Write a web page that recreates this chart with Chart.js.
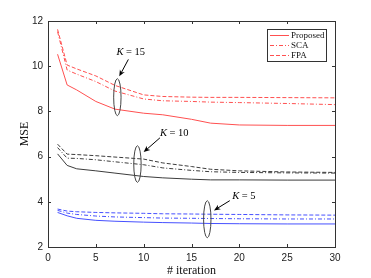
<!DOCTYPE html>
<html>
<head>
<meta charset="utf-8">
<script src="https://cdn.jsdelivr.net/npm/chart.js@4.4.0/dist/chart.umd.min.js"></script>
<style>
  html, body { margin: 0; padding: 0; background: #fff; }
  #wrap { width: 371px; height: 278px; }
</style>
</head>
<body>
<div id="wrap"><canvas id="chartContainer"></canvas></div>
<script>
// iterations sampled from the figure
const iterations = [1, 2, 3, 5, 7, 10, 12, 15, 17, 20, 25, 30];

const k15Proposed = [10.53, 9.17, 8.95, 8.44, 8.1, 7.92, 7.85, 7.65, 7.48, 7.4, 7.38, 7.38];
const k15SCA      = [11.53, 9.83, 9.65, 9.32, 8.9, 8.55, 8.47, 8.44, 8.41, 8.39, 8.35, 8.3];
const k15FPA      = [11.63, 10.05, 9.88, 9.57, 9.15, 8.73, 8.66, 8.63, 8.62, 8.62, 8.61, 8.6];

const k10Proposed = [6.12, 5.61, 5.46, 5.37, 5.27, 5.12, 5.06, 5.0, 4.97, 4.97, 4.96, 4.96];
const k10SCA      = [6.4, 5.93, 5.92, 5.86, 5.77, 5.64, 5.5, 5.39, 5.33, 5.3, 5.28, 5.27];
const k10FPA      = [6.55, 6.11, 6.09, 6.04, 5.98, 5.89, 5.72, 5.56, 5.44, 5.37, 5.32, 5.3];

const k5Proposed  = [3.53, 3.38, 3.27, 3.18, 3.14, 3.1, 3.08, 3.06, 3.04, 3.03, 3.02, 3.02];
const k5SCA       = [3.62, 3.5, 3.44, 3.37, 3.33, 3.3, 3.28, 3.27, 3.26, 3.25, 3.24, 3.24];
const k5FPA       = [3.68, 3.59, 3.56, 3.53, 3.51, 3.49, 3.47, 3.46, 3.45, 3.44, 3.42, 3.41];

const xTicks = [0, 5, 10, 15, 20, 25, 30];
const yTicks = [2, 4, 6, 8, 10, 12];
const legendLabels = ['Proposed', 'SCA', 'FPA'];

// ellipse + arrow + label for each K group (data coords)
const groups = [
  { label: '15', cx: 7.25, cy: 8.63, ry: 0.82, arrowFrom: [8.4, 10.3], arrowTo: [7.45, 9.55], text: [7.15, 10.6] },
  { label: '10', cx: 9.35, cy: 5.67, ry: 0.81, arrowFrom: [11.7, 6.83], arrowTo: [10.0, 6.2], text: [11.7, 7.05] },
  { label: '5',  cx: 16.65, cy: 3.23, ry: 0.82, arrowFrom: [19.0, 4.05], arrowTo: [17.35, 3.62], text: [19.25, 4.25] }
];

const RED = 'rgb(255,80,80)';
const BLACK = 'rgb(60,60,60)';
const BLUE = 'rgb(70,80,255)';
const DASH = [4, 2];
const DASHDOT = [4, 2, 1, 2];

function series(values, color, dash) {
  return {
    data: iterations.map((x, i) => ({ x: x, y: values[i] })),
    borderColor: color,
    borderWidth: 1,
    borderDash: dash,
    pointRadius: 0,
    fill: false,
    tension: 0
  };
}

const datasets = [
  series(k15Proposed, RED, []), series(k15SCA, RED, DASHDOT), series(k15FPA, RED, DASH),
  series(k10Proposed, BLACK, []), series(k10SCA, BLACK, DASHDOT), series(k10FPA, BLACK, DASH),
  series(k5Proposed, BLUE, []), series(k5SCA, BLUE, DASHDOT), series(k5FPA, BLUE, DASH)
];

const frame = {
  id: 'frame',
  afterDatasetsDraw(chart) {
    const { ctx, chartArea: a, scales } = chart;
    const xs = scales.x, ys = scales.y;
    ctx.save();
    ctx.strokeStyle = '#333';
    ctx.lineWidth = 1;
    ctx.setLineDash([]);
    ctx.strokeRect(a.left + 0.5, a.top + 0.5, a.right - a.left, a.bottom - a.top);
    ctx.beginPath();
    xTicks.forEach(v => {
      const px = Math.round(xs.getPixelForValue(v)) + 0.5;
      ctx.moveTo(px, a.bottom); ctx.lineTo(px, a.bottom - 3);
      ctx.moveTo(px, a.top); ctx.lineTo(px, a.top + 3);
    });
    yTicks.forEach(v => {
      const py = Math.round(ys.getPixelForValue(v)) + 0.5;
      ctx.moveTo(a.left, py); ctx.lineTo(a.left + 3, py);
      ctx.moveTo(a.right, py); ctx.lineTo(a.right - 3, py);
    });
    ctx.stroke();

    // annotations
    groups.forEach(g => {
      const cx = xs.getPixelForValue(g.cx), cy = ys.getPixelForValue(g.cy);
      const ry = Math.abs(ys.getPixelForValue(g.cy + g.ry) - cy);
      ctx.strokeStyle = '#444';
      ctx.beginPath();
      ctx.ellipse(cx, cy, 3.7, ry, 0, 0, Math.PI * 2);
      ctx.stroke();

      const x1 = xs.getPixelForValue(g.arrowFrom[0]), y1 = ys.getPixelForValue(g.arrowFrom[1]);
      const x2 = xs.getPixelForValue(g.arrowTo[0]), y2 = ys.getPixelForValue(g.arrowTo[1]);
      const ang = Math.atan2(y2 - y1, x2 - x1);
      ctx.strokeStyle = '#000';
      ctx.fillStyle = '#000';
      ctx.beginPath();
      ctx.moveTo(x1, y1); ctx.lineTo(x2 - 4 * Math.cos(ang), y2 - 4 * Math.sin(ang));
      ctx.stroke();
      ctx.beginPath();
      ctx.moveTo(x2, y2);
      ctx.lineTo(x2 - 7 * Math.cos(ang - 0.4), y2 - 7 * Math.sin(ang - 0.4));
      ctx.lineTo(x2 - 4.5 * Math.cos(ang), y2 - 4.5 * Math.sin(ang));
      ctx.lineTo(x2 - 7 * Math.cos(ang + 0.4), y2 - 7 * Math.sin(ang + 0.4));
      ctx.closePath();
      ctx.fill();

      const tx = xs.getPixelForValue(g.text[0]), ty = ys.getPixelForValue(g.text[1]);
      ctx.textBaseline = 'middle';
      ctx.textAlign = 'left';
      ctx.font = 'italic 10.5px "Liberation Serif"';
      ctx.fillText('K', tx, ty);
      const kw = ctx.measureText('K').width;
      ctx.font = '10.5px "Liberation Serif"';
      ctx.fillText(' = ' + g.label, tx + kw, ty);
    });

    // legend box
    const lx = 267, ly = 29, lw = 59, lh = 32;
    ctx.fillStyle = '#fff';
    ctx.fillRect(lx, ly, lw, lh);
    ctx.strokeStyle = '#333';
    ctx.strokeRect(lx + 0.5, ly + 0.5, lw, lh);
    const dashes = [[], DASHDOT, DASH];
    legendLabels.forEach((t, i) => {
      const yy = ly + 6 + i * 10 + 0.5;
      ctx.strokeStyle = RED;
      ctx.setLineDash(dashes[i]);
      ctx.beginPath();
      ctx.moveTo(lx + 3, yy); ctx.lineTo(lx + 22, yy);
      ctx.stroke();
      ctx.setLineDash([]);
      ctx.fillStyle = '#111';
      ctx.font = '9px "Liberation Serif"';
      ctx.textAlign = 'left';
      ctx.textBaseline = 'middle';
      ctx.fillText(t, lx + 24, yy);
    });
    ctx.restore();
  }
};

new Chart(document.getElementById('chartContainer'), {
  type: 'line',
  data: { datasets: datasets },
  options: {
    responsive: true,
    maintainAspectRatio: false,
    animation: false,
    layout: { padding: { left: 0, right: 36, top: 21, bottom: 0 } },
    plugins: { legend: { display: false }, tooltip: { enabled: false } },
    scales: {
      x: {
        type: 'linear',
        min: 0, max: 30,
        afterBuildTicks: s => { s.ticks = xTicks.map(v => ({ value: v })); },
        afterFit: s => { s.height = 31; },
        grid: { display: false, drawTicks: false },
        border: { display: false },
        ticks: { color: '#222', font: { family: 'Liberation Sans', size: 10 }, padding: 5, maxRotation: 0 },
        title: { display: true, text: '# iteration', color: '#111', font: { family: 'Liberation Serif', size: 12 }, padding: { top: 0, bottom: 0 } }
      },
      y: {
        type: 'linear',
        min: 2, max: 12,
        afterBuildTicks: s => { s.ticks = yTicks.map(v => ({ value: v })); },
        afterFit: s => { s.width = 48; },
        grid: { display: false, drawTicks: false },
        border: { display: false },
        ticks: { color: '#222', font: { family: 'Liberation Sans', size: 10 }, padding: 5 },
        title: { display: true, text: 'MSE', color: '#111', font: { family: 'Liberation Serif', size: 12 }, padding: { top: 18, bottom: 0 } }
      }
    }
  },
  plugins: [frame]
});
</script>
</body>
</html>
